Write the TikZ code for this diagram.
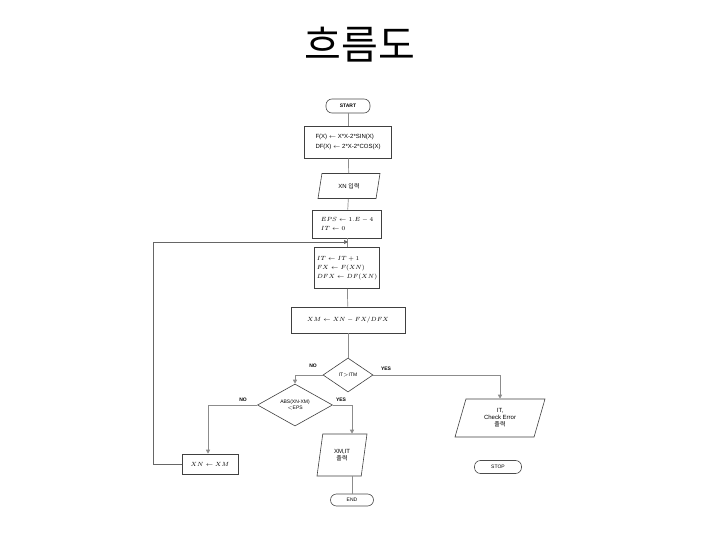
\documentclass[tikz,border=0pt]{standalone}
\usepackage{fontspec}
\setmainfont{Liberation Sans}
\newfontfamily\kr{Noto Sans CJK KR}
\usetikzlibrary{shapes.geometric,arrows.meta}
\begin{document}
\begin{tikzpicture}[x=1pt,y=-1pt,
  box/.style={draw=black!75,line width=0.6pt,inner sep=2pt,font=\fontsize{6}{8}\selectfont,align=left},
  term/.style={draw=black!70,line width=0.6pt,rounded corners=6pt,minimum height=14pt,inner sep=1pt,font=\fontsize{5}{6}\selectfont},
  para/.style={draw=black!75,line width=0.6pt,trapezium,trapezium stretches body,trapezium left angle=62,trapezium right angle=118,inner sep=1pt,font=\fontsize{6}{7}\selectfont,align=center},
  dia/.style={draw=black!75,line width=0.6pt,diamond,inner sep=0pt,font=\fontsize{5}{6}\selectfont,align=center},
  conn/.style={draw=black!45,line width=0.7pt},
  arr/.style={conn,-{Triangle[length=4pt,width=4pt]}},
  lbl/.style={font=\bfseries\fontsize{5}{6}\selectfont}]
\useasboundingbox (0,0) rectangle (720,540);
\fill[white] (0,0) rectangle (720,540);
\node (title) at (360,45) {\kr\fontsize{40}{40}\selectfont 흐름도};

\node[term,minimum width=44pt,font=\bfseries\fontsize{5}{6}\selectfont] (start) at (348,106) {START};
\node[box,minimum width=87pt,minimum height=32pt] (fx) at (348,142) {F(X) $\leftarrow$ X*X-2*SIN(X)\\[2pt]DF(X) $\leftarrow$ 2*X-2*COS(X)};
\node[para,minimum width=62pt,minimum height=25pt] (in) at (349,186) {XN {\kr 입력}};
\node[box,minimum width=69pt,minimum height=28pt] (eps) at (347,224) {$EPS\leftarrow 1.E-4$\\[1pt]$IT\leftarrow 0$};
\node[box,minimum width=65pt,minimum height=41pt] (it) at (347,268) {$IT\leftarrow IT+1$\\[1pt]$FX\leftarrow F(XN)$\\[1pt]$DFX\leftarrow DF(XN)$};
\node[box,minimum width=114pt,minimum height=26pt,align=center] (xm) at (348,320) {$XM\leftarrow XN-FX/DFX$};
\node[dia,minimum width=50pt,minimum height=34pt] (d1) at (348,375) {IT$>$ITM};
\node[dia,minimum width=75pt,minimum height=42pt] (d2) at (295,405) {ABS(XN-XM)\\$<$EPS};
\node[box,minimum width=56pt,minimum height=20pt,align=center] (xn) at (210,464) {$XN\leftarrow XM$};
\node[para,trapezium left angle=67,trapezium right angle=113,minimum width=50pt,minimum height=42pt] (out) at (342,455) {XM,IT\\{\kr 출력}};
\node[term,minimum width=43pt,minimum height=12pt] (end) at (352,500) {END};
\node[para,minimum width=90pt,minimum height=38pt] (err) at (500,418) {IT,\\Check Error\\{\kr 출력}};
\node[term,minimum width=47pt,minimum height=13pt] (stop) at (498,467) {STOP};

\coordinate (j) at (348,242);
\coordinate (l1) at (153,464);
\coordinate (l2) at (153,242);
\coordinate (n1) at (295,375);
\coordinate (y1) at (500,375);
\coordinate (n2) at (208,405);
\coordinate (y2) at (352,405);

\draw[conn] (start) -- (fx);
\draw[conn] (fx) -- (in);
\draw[conn] (in) -- (eps);
\draw[conn] (eps) -- (it);
\draw[conn] (it) -- (xm);
\draw[conn] (xm) -- (d1);
\draw[arr,draw=black!60] (xn.west) -- (l1) -- (l2) -- (j);
\draw[arr] (d1.west) -- (n1) -- (d2.north);
\draw[arr] (d1.east) -- (y1) -- (err.north -| y1);
\draw[arr] (d2.west) -- (n2) -- (xn.north -| n2);
\draw[arr] (d2.east) -- (y2) -- (out.north -| y2);
\draw[conn] (out.south -| end) -- (end);

\node[lbl] at (313,366) {NO};
\node[lbl] at (386,369) {YES};
\node[lbl] at (341,400) {YES};
\node[lbl] at (243,400) {NO};
\end{tikzpicture}
\end{document}
